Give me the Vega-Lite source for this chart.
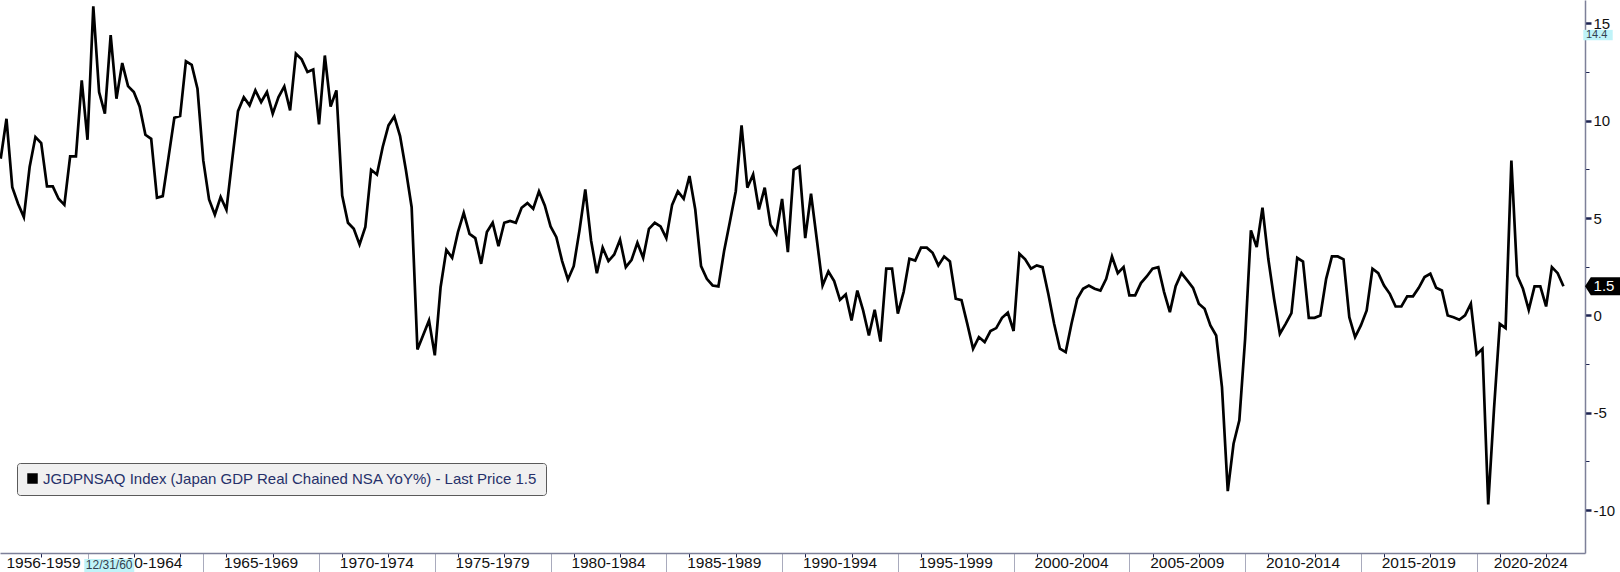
{
  "$schema": "https://vega.github.io/schema/vega-lite/v6.json",
  "width": 1585,
  "height": 553,
  "autosize": {"type": "none"},
  "padding": {"left": 0, "top": 0, "right": 35, "bottom": 19},
  "background": "#ffffff",
  "config": {"view": {"stroke": null}, "font": "Liberation Sans"},
  "datasets": {
    "gdp": [
      {"t":1956.25,"v":8.05},{"t":1956.5,"v":10.10},{"t":1956.75,"v":6.59},{"t":1957,"v":5.74},
      {"t":1957.25,"v":5.05},{"t":1957.5,"v":7.62},{"t":1957.75,"v":9.16},{"t":1958,"v":8.85},
      {"t":1958.25,"v":6.63},{"t":1958.5,"v":6.63},{"t":1958.75,"v":5.99},{"t":1959,"v":5.68},
      {"t":1959.25,"v":8.17},{"t":1959.5,"v":8.17},{"t":1959.75,"v":12.07},{"t":1960,"v":9.02},
      {"t":1960.25,"v":15.87},{"t":1960.5,"v":11.47},{"t":1960.75,"v":10.36},{"t":1961,"v":14.4},
      {"t":1961.25,"v":11.13},{"t":1961.5,"v":12.96},{"t":1961.75,"v":11.78},{"t":1962,"v":11.47},
      {"t":1962.25,"v":10.73},{"t":1962.5,"v":9.28},{"t":1962.75,"v":9.07},{"t":1963,"v":6.04},
      {"t":1963.25,"v":6.13},{"t":1963.5,"v":8.13},{"t":1963.75,"v":10.15},{"t":1964,"v":10.24},
      {"t":1964.25,"v":13.05},{"t":1964.5,"v":12.87},{"t":1964.75,"v":11.64},{"t":1965,"v":7.96},
      {"t":1965.25,"v":5.96},{"t":1965.5,"v":5.17},{"t":1965.75,"v":6.08},{"t":1966,"v":5.43},
      {"t":1966.25,"v":8.00},{"t":1966.5,"v":10.49},{"t":1966.75,"v":11.21},{"t":1967,"v":10.79},
      {"t":1967.25,"v":11.56},{"t":1967.5,"v":10.96},{"t":1967.75,"v":11.47},{"t":1968,"v":10.36},
      {"t":1968.25,"v":11.21},{"t":1968.5,"v":11.76},{"t":1968.75,"v":10.53},{"t":1969,"v":13.44},
      {"t":1969.25,"v":13.15},{"t":1969.5,"v":12.50},{"t":1969.75,"v":12.63},{"t":1970,"v":9.81},
      {"t":1970.25,"v":13.35},{"t":1970.5,"v":10.73},{"t":1970.75,"v":11.56},{"t":1971,"v":6.16},
      {"t":1971.25,"v":4.76},{"t":1971.5,"v":4.45},{"t":1971.75,"v":3.65},{"t":1972,"v":4.54},
      {"t":1972.25,"v":7.48},{"t":1972.5,"v":7.24},{"t":1972.75,"v":8.65},{"t":1973,"v":9.76},
      {"t":1973.25,"v":10.22},{"t":1973.5,"v":9.21},{"t":1973.75,"v":7.48},{"t":1974,"v":5.56},
      {"t":1974.25,"v":-1.75},{"t":1974.5,"v":-1.0},{"t":1974.75,"v":-0.26},{"t":1975,"v":-2.05},
      {"t":1975.25,"v":1.45},{"t":1975.5,"v":3.37},{"t":1975.75,"v":2.96},{"t":1976,"v":4.28},
      {"t":1976.25,"v":5.27},{"t":1976.5,"v":4.19},{"t":1976.75,"v":3.97},{"t":1977,"v":2.65},
      {"t":1977.25,"v":4.28},{"t":1977.5,"v":4.76},{"t":1977.75,"v":3.56},{"t":1978,"v":4.76},
      {"t":1978.25,"v":4.85},{"t":1978.5,"v":4.76},{"t":1978.75,"v":5.53},{"t":1979,"v":5.77},
      {"t":1979.25,"v":5.48},{"t":1979.5,"v":6.37},{"t":1979.75,"v":5.65},{"t":1980,"v":4.57},
      {"t":1980.25,"v":4.02},{"t":1980.5,"v":2.79},{"t":1980.75,"v":1.85},{"t":1981,"v":2.53},
      {"t":1981.25,"v":4.37},{"t":1981.5,"v":6.47},{"t":1981.75,"v":3.85},{"t":1982,"v":2.17},
      {"t":1982.25,"v":3.48},{"t":1982.5,"v":2.79},{"t":1982.75,"v":3.13},{"t":1983,"v":3.89},
      {"t":1983.25,"v":2.48},{"t":1983.5,"v":2.86},{"t":1983.75,"v":3.73},{"t":1984,"v":2.96},
      {"t":1984.25,"v":4.45},{"t":1984.5,"v":4.76},{"t":1984.75,"v":4.57},{"t":1985,"v":3.97},
      {"t":1985.25,"v":5.68},{"t":1985.5,"v":6.37},{"t":1985.75,"v":5.99},{"t":1986,"v":7.16},
      {"t":1986.25,"v":5.44},{"t":1986.5,"v":2.53},{"t":1986.75,"v":1.88},{"t":1987,"v":1.54},
      {"t":1987.25,"v":1.49},{"t":1987.5,"v":3.34},{"t":1987.75,"v":4.84},{"t":1988,"v":6.38},
      {"t":1988.25,"v":9.76},{"t":1988.5,"v":6.56},{"t":1988.75,"v":7.24},{"t":1989,"v":5.44},
      {"t":1989.25,"v":6.56},{"t":1989.5,"v":4.66},{"t":1989.75,"v":4.19},{"t":1990,"v":5.98},
      {"t":1990.25,"v":3.25},{"t":1990.5,"v":7.48},{"t":1990.75,"v":7.65},{"t":1991,"v":3.97},
      {"t":1991.25,"v":6.25},{"t":1991.5,"v":3.9},{"t":1991.75,"v":1.54},{"t":1992,"v":2.26},
      {"t":1992.25,"v":1.76},{"t":1992.5,"v":0.8},{"t":1992.75,"v":1.08},{"t":1993,"v":-0.26},
      {"t":1993.25,"v":1.28},{"t":1993.5,"v":0.26},{"t":1993.75,"v":-1.03},{"t":1994,"v":0.29},
      {"t":1994.25,"v":-1.34},{"t":1994.5,"v":2.40},{"t":1994.75,"v":2.40},{"t":1995,"v":0.09},
      {"t":1995.25,"v":1.2},{"t":1995.5,"v":2.91},{"t":1995.75,"v":2.82},{"t":1996,"v":3.48},
      {"t":1996.25,"v":3.48},{"t":1996.5,"v":3.22},{"t":1996.75,"v":2.57},{"t":1997,"v":3.03},
      {"t":1997.25,"v":2.77},{"t":1997.5,"v":0.86},{"t":1997.75,"v":0.79},{"t":1998,"v":-0.43},
      {"t":1998.25,"v":-1.71},{"t":1998.5,"v":-1.11},{"t":1998.75,"v":-1.37},{"t":1999,"v":-0.80},
      {"t":1999.25,"v":-0.65},{"t":1999.5,"v":-0.12},{"t":1999.75,"v":0.14},{"t":2000,"v":-0.80},
      {"t":2000.25,"v":3.17},{"t":2000.5,"v":2.88},{"t":2000.75,"v":2.40},{"t":2001,"v":2.57},
      {"t":2001.25,"v":2.48},{"t":2001.5,"v":1.1},{"t":2001.75,"v":-0.43},{"t":2002,"v":-1.71},
      {"t":2002.25,"v":-1.88},{"t":2002.5,"v":-0.43},{"t":2002.75,"v":0.86},{"t":2003,"v":1.37},
      {"t":2003.25,"v":1.54},{"t":2003.5,"v":1.37},{"t":2003.75,"v":1.28},{"t":2004,"v":1.88},
      {"t":2004.25,"v":3.03},{"t":2004.5,"v":2.17},{"t":2004.75,"v":2.48},{"t":2005,"v":1.03},
      {"t":2005.25,"v":1.03},{"t":2005.5,"v":1.66},{"t":2005.75,"v":2.00},{"t":2006,"v":2.40},
      {"t":2006.25,"v":2.48},{"t":2006.5,"v":1.2},{"t":2006.75,"v":0.17},{"t":2007,"v":1.5},
      {"t":2007.25,"v":2.17},{"t":2007.5,"v":1.80},{"t":2007.75,"v":1.42},{"t":2008,"v":0.60},
      {"t":2008.25,"v":0.34},{"t":2008.5,"v":-0.51},{"t":2008.75,"v":-1.03},{"t":2009,"v":-3.68},
      {"t":2009.25,"v":-9.02},{"t":2009.5,"v":-6.59},{"t":2009.75,"v":-5.39},{"t":2010,"v":-1.2},
      {"t":2010.25,"v":4.37},{"t":2010.5,"v":3.51},{"t":2010.75,"v":5.53},{"t":2011,"v":2.91},
      {"t":2011.25,"v":0.86},{"t":2011.5,"v":-0.94},{"t":2011.75,"v":-0.43},{"t":2012,"v":0.12},
      {"t":2012.25,"v":2.96},{"t":2012.5,"v":2.77},{"t":2012.75,"v":-0.12},{"t":2013,"v":-0.12},
      {"t":2013.25,"v":0.0},{"t":2013.5,"v":1.88},{"t":2013.75,"v":3.03},{"t":2014,"v":3.03},
      {"t":2014.25,"v":2.88},{"t":2014.5,"v":-0.09},{"t":2014.75,"v":-1.11},{"t":2015,"v":-0.51},
      {"t":2015.25,"v":0.26},{"t":2015.5,"v":2.40},{"t":2015.75,"v":2.17},{"t":2016,"v":1.54},
      {"t":2016.25,"v":1.11},{"t":2016.5,"v":0.46},{"t":2016.75,"v":0.46},{"t":2017,"v":0.98},
      {"t":2017.25,"v":0.98},{"t":2017.5,"v":1.42},{"t":2017.75,"v":1.97},{"t":2018,"v":2.14},
      {"t":2018.25,"v":1.42},{"t":2018.5,"v":1.28},{"t":2018.75,"v":0.0},{"t":2019,"v":-0.09},
      {"t":2019.25,"v":-0.22},{"t":2019.5,"v":0.0},{"t":2019.75,"v":0.60},{"t":2020,"v":-2.00},
      {"t":2020.25,"v":-1.71},{"t":2020.5,"v":-9.71},{"t":2020.75,"v":-4.8},{"t":2021,"v":-0.43},
      {"t":2021.25,"v":-0.65},{"t":2021.5,"v":7.96},{"t":2021.75,"v":2.05},{"t":2022,"v":1.37},
      {"t":2022.25,"v":0.29},{"t":2022.5,"v":1.49},{"t":2022.75,"v":1.49},{"t":2023,"v":0.46},
      {"t":2023.25,"v":2.48},{"t":2023.5,"v":2.17},{"t":2023.75,"v":1.5}
    ],
    "periods": [
      {"m":1958.1,"lab":"1956-1959"},{"m":1962.5,"lab":"1960-1964"},{"m":1967.5,"lab":"1965-1969"},
      {"m":1972.5,"lab":"1970-1974"},{"m":1977.5,"lab":"1975-1979"},{"m":1982.5,"lab":"1980-1984"},
      {"m":1987.5,"lab":"1985-1989"},{"m":1992.5,"lab":"1990-1994"},{"m":1997.5,"lab":"1995-1999"},
      {"m":2002.5,"lab":"2000-2004"},{"m":2007.5,"lab":"2005-2009"},{"m":2012.5,"lab":"2010-2014"},
      {"m":2017.5,"lab":"2015-2019"},{"m":2022.34,"lab":"2020-2024"}
    ],
    "cross": [{"t":1961.0,"v":14.4,"date":"12/31/60","val":"14.4"}],
    "last": [{"v":1.5,"lab":"1.5"}]
  },
  "layer": [
    {
      "data": {"name": "gdp"},
      "mark": {"type": "line", "strokeWidth": 2.7, "color": "#000000"},
      "encoding": {
        "x": {
          "field": "t", "type": "quantitative",
          "scale": {"domain": [1956.22, 2024.68], "nice": false, "zero": false},
          "axis": {
            "title": null, "labels": false, "grid": false,
            "values": [1958,1960,1962,1964,1965,1966,1968,1970,1971,1973,1975,1976,1978,1980,1981,1983,1985,1986,1988,1990,1991,1993,1995,1996,1998,2000,2001,2003,2005,2006,2008,2010,2011,2013,2015,2016,2018,2020,2021,2023],
            "domainColor": "#7d8099", "domainWidth": 1.5,
            "tickSize": {"condition": {"test": "datum.value % 5 === 0", "value": 19}, "value": 4},
            "tickColor": {"condition": {"test": "datum.value % 5 === 0", "value": "#a9abbd"}, "value": "#1c2350"},
            "tickWidth": 1
          }
        },
        "y": {
          "field": "v", "type": "quantitative",
          "scale": {"domain": [-12.2, 16.2], "nice": false, "zero": false},
          "axis": {
            "orient": "right", "title": null, "grid": false,
            "values": [-10,-7.5,-5,-2.5,0,2.5,5,7.5,10,12.5,15],
            "labelExpr": "datum.value % 5 === 0 ? '' + datum.value : ''",
            "labelOverlap": false,
            "domainColor": "#7d8099", "domainWidth": 1.5,
            "tickColor": "#1c2350",
            "tickSize": {"condition": {"test": "datum.value % 5 === 0", "value": 6}, "value": 4},
            "tickWidth": {"condition": {"test": "datum.value % 5 === 0", "value": 2.5}, "value": 1},
            "labelPadding": 2,
            "labelFont": "Liberation Sans", "labelFontSize": 15, "labelColor": "#111111"
          }
        },
        "color": {
          "datum": "JGDPNSAQ Index (Japan GDP Real Chained NSA YoY%) - Last Price 1.5",
          "type": "nominal",
          "scale": {"range": ["#000000"]},
          "legend": {
            "title": null, "orient": "none", "legendX": 17, "legendY": 463,
            "symbolType": "square", "symbolSize": 110,
            "symbolFillColor": "#000000", "symbolStrokeColor": "#000000", "symbolStrokeWidth": 0,
            "labelFont": "Liberation Sans", "labelFontSize": 15, "labelColor": "#26306a",
            "labelLimit": 900, "labelOffset": 3,
            "fillColor": "#f0f0f0", "strokeColor": "#5a5a5a", "cornerRadius": 3, "padding": 8,
            "encode": {"symbols": {"update": {"fill": {"value": "#000000"}, "stroke": {"value": "#000000"}, "strokeWidth": {"value": 0}, "shape": {"value": "square"}}}}
          }
        }
      }
    },
    {
      "data": {"name": "periods"},
      "mark": {"type": "text", "baseline": "alphabetic", "align": "center", "dy": 15, "font": "Liberation Sans", "fontSize": 15.5, "color": "#111111"},
      "encoding": {
        "x": {"field": "m", "type": "quantitative"},
        "y": {"datum": -12.2, "type": "quantitative"},
        "text": {"field": "lab"}
      }
    },
    {
      "data": {"name": "cross"},
      "mark": {"type": "point", "shape": "M-2.64,0.6L2.36,0.6L2.36,1.95L-2.64,1.95Z", "size": 400, "filled": true, "color": "#bff3f8", "opacity": 1, "strokeWidth": 0},
      "encoding": {
        "x": {"field": "t", "type": "quantitative"},
        "y": {"datum": -12.2, "type": "quantitative"}
      }
    },
    {
      "data": {"name": "cross"},
      "mark": {"type": "text", "baseline": "alphabetic", "align": "center", "dy": 16, "dx": -1.5, "font": "Liberation Sans", "fontSize": 12, "color": "#33404f"},
      "encoding": {
        "x": {"field": "t", "type": "quantitative"},
        "y": {"datum": -12.2, "type": "quantitative"},
        "text": {"field": "date"}
      }
    },
    {
      "data": {"name": "cross"},
      "mark": {"type": "point", "shape": "M-0.17,-0.52L2.77,-0.52L2.77,0.52L-0.17,0.52Z", "size": 400, "filled": true, "color": "#bff3f8", "opacity": 1, "strokeWidth": 0},
      "encoding": {
        "x": {"datum": 2024.68, "type": "quantitative"},
        "y": {"field": "v", "type": "quantitative"}
      }
    },
    {
      "data": {"name": "cross"},
      "mark": {"type": "text", "baseline": "middle", "align": "left", "dx": 1, "font": "Liberation Sans", "fontSize": 11, "color": "#33404f"},
      "encoding": {
        "x": {"datum": 2024.68, "type": "quantitative"},
        "y": {"field": "v", "type": "quantitative"},
        "text": {"field": "val"}
      }
    },
    {
      "data": {"name": "last"},
      "mark": {"type": "point", "shape": "M0,0L0.33,-0.52L2,-0.52L2,0.52L0.33,0.52Z", "size": 1225, "filled": true, "color": "#000000", "opacity": 1, "strokeWidth": 0},
      "encoding": {
        "x": {"datum": 2024.68, "type": "quantitative"},
        "y": {"field": "v", "type": "quantitative"}
      }
    },
    {
      "data": {"name": "last"},
      "mark": {"type": "text", "baseline": "middle", "align": "center", "dx": 19, "font": "Liberation Sans", "fontSize": 15, "color": "#ffffff"},
      "encoding": {
        "x": {"datum": 2024.68, "type": "quantitative"},
        "y": {"field": "v", "type": "quantitative"},
        "text": {"field": "lab"}
      }
    }
  ]
}
